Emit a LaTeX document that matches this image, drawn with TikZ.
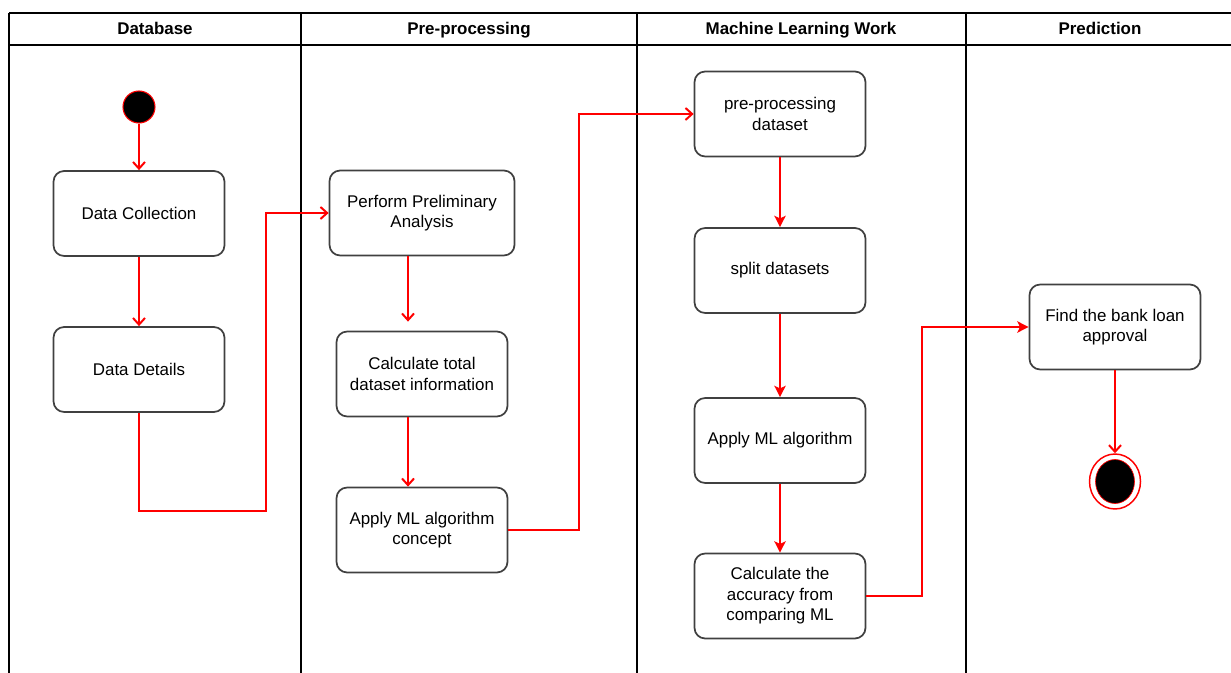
\documentclass[tikz,border=0pt]{standalone}
\usepackage{fontspec}
\setmainfont{Liberation Sans}
\usetikzlibrary{arrows.meta,shapes.geometric,calc}

\tikzset{every picture/.style={line width=0.75pt}}
\tikzset{
  lane/.style={draw=black, line width=1.1pt},
  lanehead/.style={font=\bfseries\fontsize{12.7}{15}\selectfont, inner sep=0.75pt, anchor=base},
  actbox/.style={draw={rgb,255:red,64;green,64;blue,64}, line width=1.3pt, rounded corners=8pt,
    minimum width=128.25pt, minimum height=63.75pt, align=center, inner sep=0.75pt,
    font=\fontsize{12.7}{15.4}\selectfont},
  flow/.style={draw=red, line width=1.5pt, -{Straight Barb[length=5pt,width=9pt]}},
  flowfill/.style={draw=red, line width=1.5pt, -{Stealth[length=8.5pt,width=8.5pt,inset=2pt]}}
}

\begin{document}
\begin{tikzpicture}[x=0.75pt,y=0.75pt,yscale=-1,xscale=1]
	\useasboundingbox (0,0) rectangle (1231,673);

	%Swimlanes
	\draw [lane] (9,13) -- (1231,13) ;
	\draw [lane] (9,45) -- (1231,45) ;
	\draw [lane] (9,13) -- (9,673) ;
	\draw [lane] (301,13) -- (301,673) ;
	\draw [lane] (637,13) -- (637,673) ;
	\draw [lane] (966,13) -- (966,673) ;

	% Lane headers
	\node [lanehead] (hdb) at (155,35) {Database};
	\node [lanehead] (hpre) at (469,35) {Pre-processing};
	\node [lanehead] (hml) at (801,35) {Machine Learning Work};
	\node [lanehead] (hpred) at (1100,35) {Prediction};

	% Start / end
	\node [circle, draw=red, fill=black, line width=0.8pt, minimum size=24pt, inner sep=0pt] (start) at (139,107) {};
	\node [ellipse, draw=red, line width=1.1pt, minimum width=38.25pt, minimum height=41.25pt, inner sep=0pt] (stop) at (1115,481.5) {};
	\draw [red, fill=black, line width=0.5pt] (stop.center) ellipse [x radius=14.6pt, y radius=16.5pt] ;

	% Database
	\node [actbox] (collect) at (139,213.5) {Data Collection};
	\node [actbox] (details) at (139,369.5) {Data Details};

	% Pre-processing
	\node [actbox, minimum width=138.75pt] (perform) at (422,213) {Perform Preliminary\\Analysis};
	\node [actbox] (total) at (422,374) {Calculate total\\dataset information};
	\node [actbox] (concept) at (422,530) {Apply ML algorithm\\concept};

	% Machine Learning Work
	\node [actbox] (prep) at (780,114) {pre-processing\\dataset};
	\node [actbox] (split) at (780,270.5) {split datasets};
	\node [actbox] (apply) at (780,440.5) {Apply ML algorithm};
	\node [actbox] (accuracy) at (780,596) {Calculate the\\accuracy from\\comparing ML};

	% Prediction
	\node [actbox] (find) at (1115,327) {Find the bank loan\\approval};

	% Bends
	\coordinate (bendA) at (266,511);
	\coordinate (bendB) at (579,530);
	\coordinate (bendC) at (922,596);

	% Flows
	\draw [flow] (start) -- (collect) ;
	\draw [flow] (collect) -- (details) ;
	\draw [flow] (details.south) |- (bendA) |- (perform.west) ;
	\draw [flow] ($(perform.south)+(-14,0)$) -- ($(total.north)+(-14,-9)$) ;
	\draw [flow] ($(total.south)+(-14,0)$) -- ($(concept.north)+(-14,0)$) ;
	\draw [flow] (concept.east) -- (bendB) |- (prep.west) ;
	\draw [flowfill] (prep) -- (split) ;
	\draw [flowfill] (split) -- (apply) ;
	\draw [flowfill] (apply) -- (accuracy) ;
	\draw [flowfill] (accuracy.east) -- (bendC) |- (find.west) ;
	\draw [flow] (find) -- (stop) ;
\end{tikzpicture}
\end{document}
